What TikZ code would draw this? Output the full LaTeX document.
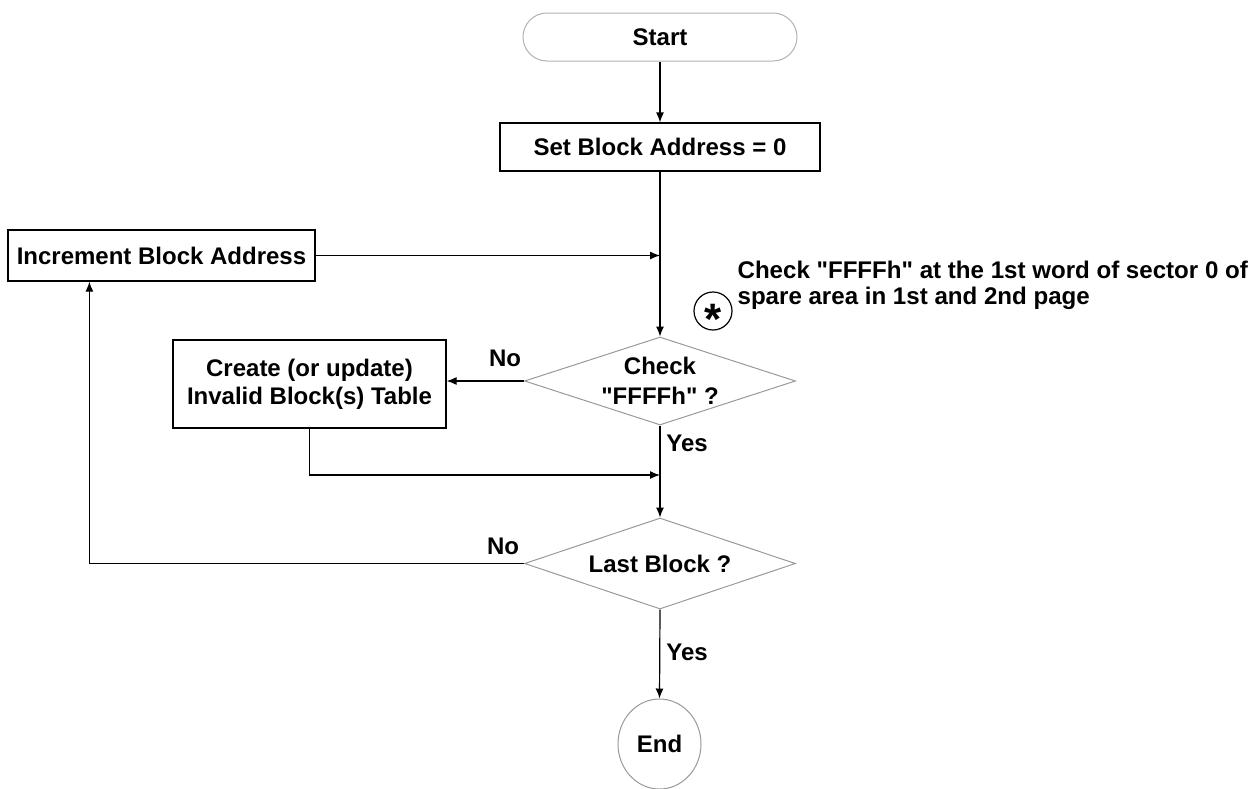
\documentclass[tikz,border=0pt]{standalone}
\usepackage{fontspec}
\setmainfont{Liberation Sans}[Ligatures=TeXOff]
\usetikzlibrary{arrows.meta}
\usetikzlibrary{shapes.geometric}
\usetikzlibrary{positioning}
\tikzset{arr/.style = {-{Latex[length=10pt, width=8pt]}}}
\tikzset{lbl/.style = {font=\fontsize{24}{28}\selectfont\bfseries, inner sep=0}}
\tikzset{procbox/.style = {draw, line width=1.2pt, lbl, align=center}}
\tikzset{decide/.style = {draw=mgray, line width=1pt, diamond, lbl, align=center,
                          minimum width=271pt, minimum height=88pt, aspect=3.1}}
\definecolor{mgray}{rgb}{0.6, 0.6, 0.6}
\definecolor{lgray}{rgb}{0.7, 0.7, 0.7}

\begin{document}
\begin{tikzpicture}[x=1pt, y=-1pt, line width=1.2pt, font=\fontsize{24}{28}\selectfont\bfseries]
      \useasboundingbox (0, 0) rectangle (1257, 788);

      \node [procbox, draw=lgray, line width=1pt, rounded corners=24pt,
             minimum width=274pt, minimum height=48pt] (start) at (660, 37) {Start};
      \node [procbox, minimum width=320pt, minimum height=48pt] (setaddr) at (660, 147) {Set Block Address = 0};
      \node [procbox, minimum width=307pt, minimum height=51pt] (incr) at (161.5, 255.5) {Increment Block Address};

      \node [draw, circle, line width=1.2pt, minimum size=38pt, inner sep=0,
             font=\fontsize{44}{44}\selectfont\bfseries] (star) at (713, 311) {\raisebox{-23pt}[0pt][0pt]{*}};
      \node [lbl, align=left, anchor=west, font=\fontsize{24.1}{26}\selectfont\bfseries] (note) at (737, 285)
            {Check "FFFFh" at the 1st word of sector 0 of\\spare area in 1st and 2nd page};

      \node [decide] (check) at (660, 381) {Check\\[2pt]"FFFFh" ?};
      \node [procbox, minimum width=273pt, minimum height=88pt] (create) at (309.5, 384)
            {Create (or update)\\Invalid Block(s) Table};
      \coordinate (merge) at (660, 475);
      \node [decide, minimum height=91pt] (last) at (660, 563.5) {Last Block ?};
      \node [draw=mgray, line width=1pt, ellipse, minimum width=83pt, minimum height=90pt] (end) at (659.5, 744) {End};

      \node [lbl] (checkno) at (505, 358) {No};
      \node [lbl] (checkyes) at (687, 443) {Yes};
      \node [lbl] (lastno) at (503, 546) {No};
      \node [lbl] (lastyes) at (687, 652) {Yes};

      \draw [arr] (start) -- (setaddr);
      \draw [arr] (setaddr) -- (check.north);
      \draw [arr] (incr.east) -- (incr.east -| check.north);
      \draw [arr] (check.west) -- (check.west -| create.east);
      \draw [arr] (create.south) |- (merge);
      \draw [arr] (check.south) -- (last.north);
      \draw [arr] (last.west) -| ([xshift=82pt]incr.south west);
      \draw [arr] (last.south) -- (end.north);
    \end{tikzpicture}
\end{document}
